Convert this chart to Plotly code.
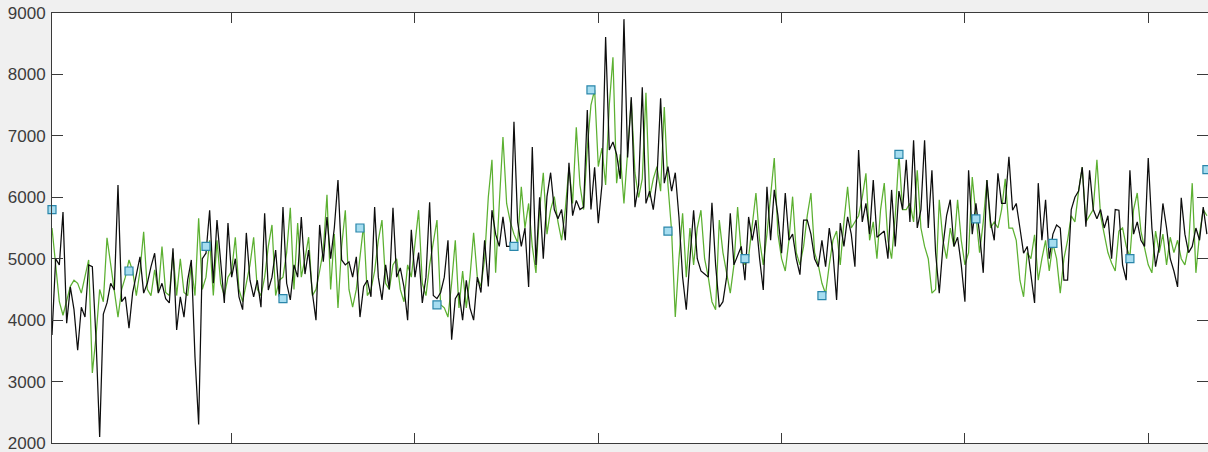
import plotly.graph_objects as go

# Sample index of every reading (1-based, as logged)
n_samples = 316
sample_idx = list(range(1, n_samples + 1))

# Measured series (black trace)
measured = [
    3760, 5000, 4900, 5760, 3950, 4540, 4170, 3510, 4210, 4050,
    4900, 4870, 3700, 2100, 4100, 4280, 4600, 4490, 6200, 4300,
    4380, 3870, 4450, 4750, 5030, 4440, 4600, 4870, 5090, 4440,
    4600, 4350, 4280, 5170, 3840, 4380, 4050, 4650, 4980, 3400,
    2300, 5000, 5090, 5790, 4600,
    5630, 4900, 4280, 5580, 4700, 5000, 4380, 4170, 5420, 4650,
    4380, 4650, 4210, 5740, 4490, 4700, 5140, 4380, 5840, 4600,
    4330, 4900, 4700, 5680, 4750, 5140, 4450, 4000, 5550, 4950,
    5680, 5000, 5500, 6280, 4980, 4900, 4950, 4700, 5030, 4050,
    4550, 4650, 4380, 5840, 4700,
    4330, 4900, 4500, 5830, 4700, 4850, 4540, 4000, 5470, 4700,
    5100, 4280, 4700, 5920, 4400, 4350, 4450, 4700, 5300, 3680,
    4350, 4450, 4000, 4650, 4200, 4000, 4700, 4450, 5300, 4550,
    5790, 5400, 5200, 5680, 5200, 5200, 7230, 5600, 5200, 5500,
    4540, 6820, 4900, 6000, 5000,
    6010, 6400, 5800, 5650, 5800, 5300, 6560, 5700, 5950, 5800,
    5840, 7420, 5800, 6490, 5580, 6200, 8610, 6770, 6900, 6700,
    6300, 8900, 6650, 7630, 5840, 6200, 7790, 5900, 6100, 5800,
    6300, 7610, 6230, 6500, 6100, 6400, 5680, 4700, 4170, 5000,
    5790, 5000,
    4800, 4750, 4700, 5910, 4900, 4210, 4300, 4700, 5740, 4900,
    5050, 5200, 4650, 5680, 5300, 5630, 5000, 4490, 6170, 5300,
    6120, 5700, 5090, 6070, 5300, 5400, 5000, 4740, 5630, 5630,
    5400, 5000, 4870, 5300, 4870, 5500, 5100, 4330, 5580, 5200,
    5680, 5400, 4870, 6770, 5600,
    5900, 5400, 6280, 5350, 5400, 5450, 5000, 6120, 5200, 6100,
    5800, 6610, 5600, 6930, 5500, 5800, 6930, 5500, 6440, 5100,
    4440, 5200, 5700, 5960, 5200, 5350, 4900, 4300, 6440, 5400,
    5900, 5400, 4770, 6280, 5600, 5300, 6390, 5900, 5900, 6660,
    5790, 5900, 5500, 5090, 5200, 4770, 4280, 6230, 5300, 5960,
    5000, 5400, 5550, 5500, 4650, 4650, 5800, 6000, 6100, 6490,
    5520, 6440, 5800, 5650, 5800, 5500, 5700, 5000, 5800, 5790,
    4900, 4650, 6440, 5400, 5600, 5300, 5200, 6640, 5500, 4870,
    5200, 5900, 5500, 5000, 4800, 4540, 5990, 5400, 5100, 5200,
    5500, 5300, 5840, 5400,
]

# Predicted series (green trace)
predicted = [
    5500, 4900, 4300, 4080, 4300, 4550, 4650, 4600, 4440, 4700,
    4980, 3140, 3730, 4500, 4300, 5340, 4900, 4400, 4050, 4500,
    4700, 4980, 4800, 4400, 4800, 5440, 4500, 4400, 4820, 4450,
    5200, 4450, 4400, 5100, 4400, 5000, 4450, 4400, 4900, 4400,
    5660, 4500, 4700, 5300, 4400,
    5300, 4600, 4400, 4700, 4800, 5350, 4500, 4300, 4600, 4900,
    5350, 4500, 4400, 4700, 5200, 5550, 4400, 4650, 4700, 5100,
    5830, 4500, 5580, 4700, 5000, 5350, 4400, 4500, 4800, 5140,
    6040, 4500, 5400, 4200, 5200, 5790, 4500, 4210, 4500, 5000,
    5550, 4400, 4500, 4800, 5300,
    5630, 4600, 4500, 4900, 5000, 4500, 4300, 4900, 4700, 5300,
    5790, 4600, 4400, 4900, 5300, 5630, 4250, 4200, 4050, 4600,
    5300, 4200, 4800, 4200, 4700, 5420, 4700, 4550, 5000, 6000,
    6610, 4770, 5900, 6980, 5900, 5600, 5400, 5260, 6170, 5500,
    5900, 5200, 4770, 5800, 6400,
    5400, 5800, 6010, 5600, 5300, 5800, 6490, 5900, 7140, 6200,
    5800, 6800, 7500, 7750, 6500, 6800, 6200, 7500, 8280, 6230,
    6700, 5900, 6800, 7580, 6400, 6000, 6300, 7700, 6000, 6300,
    6500, 6100, 7470, 6200, 5450, 4050, 5000, 5740, 4700, 5500,
    4900, 5500,
    5790, 5000, 4700, 4300, 4170, 5630, 5100, 4800, 4440, 4900,
    5840, 5100, 4900, 5030, 5600, 6070, 5300, 4900, 5400, 6000,
    6640, 5400, 5000, 4800, 5300, 6010, 5100, 4900, 5200, 5700,
    6070, 5100, 4900, 4600, 4430, 4900, 5300, 5450, 4900, 5600,
    6170, 5500, 5600, 5700, 6000,
    6390, 5300, 5600, 5000, 5800, 6230, 5300, 5000, 5700, 6700,
    5800, 5800, 5900, 5600, 6440, 5500, 5200, 5000, 4440, 4500,
    5960, 5300, 5000, 5500, 5200, 5960, 5300, 4900, 5100, 6330,
    5660, 5100, 5600, 6280, 5500, 5600, 5500, 5800, 6300, 5500,
    5500, 5300, 4650, 4380, 5100, 5000, 5390, 4650, 5000, 5300,
    4800, 5250, 5000, 4440, 5000, 5300, 5700, 5600, 6100, 6490,
    5600, 5700, 5800, 6610, 5700, 5400, 5100, 4930, 4800, 5450,
    5500, 5200, 5030, 5800, 6070, 5450, 5200, 4900, 4770, 5450,
    5100, 5400, 4900, 5350, 5100, 5300, 5000, 4900, 5200, 6230,
    4770, 5400, 5800, 5700,
]

# Spot checks taken every 21 samples
check_step = 21
check_values = [5800, 4800, 5200, 4350, 5500, 4250, 5200, 7750,
                5450, 5000, 4400, 6700, 5650, 5250, 5000, 6450]
check_idx = list(range(1, n_samples + 1, check_step))

y_ticks = [2000, 3000, 4000, 5000, 6000, 7000, 8000, 9000]
x_ticks = [50, 100, 150, 200, 250, 300]

assert len(measured) == n_samples and len(predicted) == n_samples
assert len(check_idx) == len(check_values)

fig = go.Figure()
fig.add_trace(go.Scatter(
    x=sample_idx, y=predicted, mode="lines",
    line=dict(color="#5cb031", width=1.25), showlegend=False, hoverinfo="skip"))
fig.add_trace(go.Scatter(
    x=sample_idx, y=measured, mode="lines",
    line=dict(color="#0d0d0d", width=1.25), showlegend=False, hoverinfo="skip"))
fig.add_trace(go.Scatter(
    x=check_idx, y=check_values, mode="markers", cliponaxis=False,
    marker=dict(symbol="square", size=8, color="#a6ddf0",
                line=dict(color="#2a86aa", width=1.2)),
    showlegend=False, hoverinfo="skip"))
# right-hand axis carries only the mirrored inward ticks
fig.add_trace(go.Scatter(x=[None], y=[None], yaxis="y2",
                         showlegend=False, hoverinfo="skip"))

axis_col = "#3a3a3a"
fig.update_layout(
    width=1208, height=452,
    margin=dict(l=52, r=0, t=13, b=9, pad=0),
    paper_bgcolor="#f0f0f0", plot_bgcolor="#ffffff",
    font=dict(family="Liberation Sans, Arial, sans-serif", size=17, color="#3c3c3c"),
    xaxis=dict(range=[1, 316.3], tickvals=x_ticks, showticklabels=False,
               ticks="inside", ticklen=10, tickcolor=axis_col, tickwidth=1,
               showline=True, linecolor=axis_col, linewidth=1, mirror="ticks",
               showgrid=False, zeroline=False),
    yaxis=dict(range=[2000, 9000], tickvals=y_ticks,
               ticks="inside", ticklen=11, tickcolor=axis_col, tickwidth=1,
               showline=True, linecolor=axis_col, linewidth=1,
               showgrid=False, zeroline=False, ticklabelstandoff=2,
               ticklabeloverflow="allow"),
    yaxis2=dict(range=[2000, 9000], tickvals=y_ticks, overlaying="y",
                side="right", showticklabels=False,
                ticks="inside", ticklen=11, tickcolor=axis_col, tickwidth=1,
                showline=False, showgrid=False, zeroline=False),
)

fig.write_html("out.html")
